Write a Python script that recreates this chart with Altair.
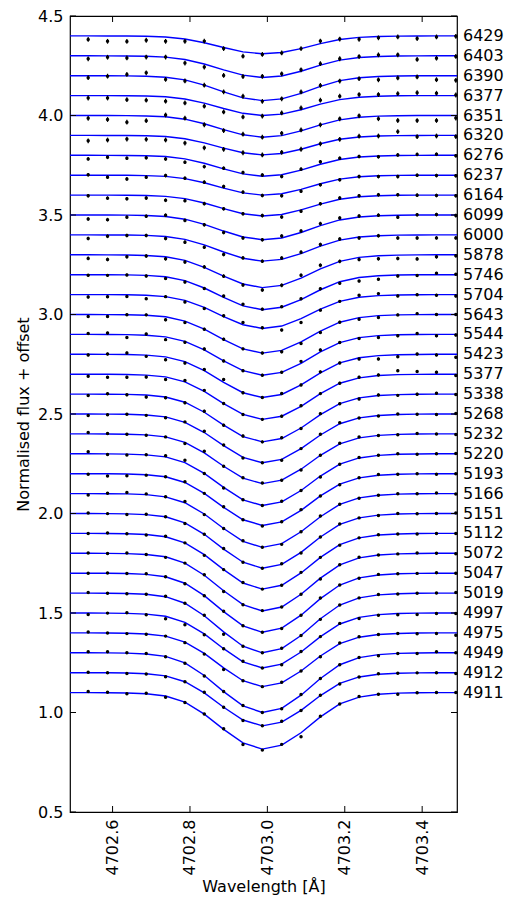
import altair as alt
import pandas as pd

# ---- data ----
epochs = ["6429", "6403", "6390", "6377", "6351", "6320", "6276", "6237", "6164", "6099",
          "6000", "5878", "5746", "5704", "5643", "5544", "5423", "5377", "5338", "5268",
          "5232", "5220", "5193", "5166", "5151", "5112", "5072", "5047", "5019", "4997",
          "4975", "4949", "4912", "4911"]
offsets = [3.4, 3.3, 3.2, 3.1, 3.0, 2.9, 2.8, 2.7, 2.6, 2.5,
           2.4, 2.3, 2.2, 2.1, 2.0, 1.9, 1.8, 1.7, 1.6, 1.5,
           1.4, 1.3, 1.2, 1.1, 1.0, 0.9, 0.8, 0.7, 0.6, 0.5,
           0.4, 0.3, 0.2, 0.1]
# line depth of each model spectrum
depths = [0.090, 0.109, 0.125, 0.100, 0.109, 0.098, 0.105, 0.100, 0.105, 0.124,
          0.132, 0.165, 0.176, 0.170, 0.194, 0.205, 0.217, 0.227, 0.240, 0.245,
          0.250, 0.260, 0.260, 0.270, 0.275, 0.280, 0.290, 0.297, 0.300, 0.276,
          0.270, 0.300, 0.267, 0.284]
# model wavelength grid (Angstrom) and normalised line profile on it
model_wl = [4702.487, 4702.537, 4702.587, 4702.637, 4702.687, 4702.737, 4702.787, 4702.837,
            4702.887, 4702.937, 4702.987, 4703.037, 4703.087, 4703.137, 4703.187, 4703.237,
            4703.287, 4703.337, 4703.387, 4703.437, 4703.487, 4703.537]
profile = [0.0, 0.0, 0.002, 0.006, 0.02, 0.06, 0.17, 0.38, 0.65, 0.89, 1.0,
           0.93, 0.71, 0.43, 0.2, 0.08, 0.03, 0.01, 0.003, 0.0, 0.0, 0.0]
# observed points: departure from the model, in units of 0.01 flux (20 per spectrum)
resid = [
    [-1.8, -2.7, -2.7, -2.0, -2.2, -1.2, 0.8, -0.5, -2.2, -0.3, -0.2, 0, 1.3, 0.2, -1, -0.7, -0.4, -1.3, -0.5, -0.2],
    [-1.5, -0.7, -1, -0.4, 0, -1.8, -1.5, -2.8, -0.7, 0.6, 1.1, 0.7, 0.7, 0.7, 0.5, 0.8, 0.6, -1.8, -1.2, -0.3],
    [-1, -0.2, 0.7, 1.7, -1.1, -0.5, 0, 0, 0.8, -0.4, 0, 0.7, 0.5, -0.2, -0.5, -1.7, -1, -0.6, -2, -2.3],
    [-1.2, -1.2, -2, -2.1, -2.2, -2, -1.5, -1.7, -1.8, -0.3, 0.6, 0.9, 2.0, 1.7, 1.3, 0.8, 1.1, 1.5, 1.2, 0.3],
    [-1.4, -2, -3.3, -2.4, 0.9, 0.5, -0.5, -0.5, 0.3, 0, 1.2, 0.5, 0, 0.5, 0.7, -1.3, -2.4, -2.5, -2.5, -1.3],
    [-2.7, -2.3, -1.8, -1.8, -1.7, -2.2, -2.5, -0.6, 0, 0, 0.6, 0, 0, 0, 0.4, 0, 2, -0.6, -0.3, -0.6],
    [-1.8, -1, -1.4, -1, -1.2, -1.7, -1.7, 0.3, 0.7, 0.6, -0.9, 0.5, 1.3, 0.6, 0.2, -0.4, 0.3, 0.5, 0.5, -0.2],
    [0.2, -1, -1.8, -0.8, 0.4, 0.2, 0.3, 0.8, 0.4, -0.2, -1, -1, -0.5, -0.3, 0.1, -0.4, -0.6, 0, -0.2, -0.3],
    [-0.3, -1.5, -1.8, -1.3, -2, -1, -0.3, 0, 0, 0.2, -1.2, -0.7, 0.2, 0.6, 0.5, 0.5, 0.3, 0, -0.2, -0.3],
    [-2, -2.3, -1, -0.4, 0.6, -0.6, -0.2, -0.7, -0.5, 0, 1, 0.8, 1, 1, 0.5, 0.3, -1, 0.2, 0.2, -0.3],
    [-1.8, -0.7, -0.2, 0, -1, -1.4, -1.2, -1.3, 0.2, 0, 0.7, 0.7, 0.8, 0.6, -0.5, 0, -1.4, -1.5, -1.5, -1.5],
    [-1.8, -2.3, -0.9, -0.3, -1, -0.8, 0.2, 0, -0.5, -1.2, 0, 1.4, 1.8, 0, -1, -1.5, -1.7, -2, -1, -0.5],
    [-0.3, -0.3, 0, -0.3, -0.8, -0.7, -0.3, 0.7, 0.8, 0.3, 0.3, 0.4, 0.5, -0.8, -1.8, -1.8, -0.5, -0.3, 0.7, 0.2],
    [-1.2, -1, -0.9, -1.7, 0, -0.8, -0.5, 0.4, 1.1, 0.3, -2, -2, -0.5, 0, 1, 1, -0.5, 0, -0.3, -0.7],
    [-1, -1, 0, 0.2, -1.5, -0.7, 0, 0.2, 0, 0, -0.7, -0.8, -0.7, 0, -0.8, -0.9, 0, 0.5, 0, 0],
    [0.5, 0.7, -1.4, 0.6, -1.4, -0.5, 0.5, 0, 0, 0, 0, 1, 1, 0, -0.4, -0.9, -0.5, 0.5, -0.7, -0.3],
    [-0.3, 0.2, 0.8, -0.6, -1.4, -0.7, 0.6, 1.4, 0, 0, 0.5, 0, 0.5, 0, -0.6, -1.7, -1, 0.2, -0.3, -1.5],
    [-1, -1.5, -1.4, -1, -1.3, 0.7, 0.5, 0, 0, 0, 0, 0.3, 0, 0, 0.3, 0.3, 2, 1.4, 1, -0.7],
    [-0.7, 0.2, -0.2, -1, -0.4, -0.3, 0.5, 0, 0.3, 0, 0.4, -0.3, 0.5, 0, -0.5, 0.3, -0.4, 0, 0.4, -0.2],
    [-0.7, -0.3, 0, -0.2, -0.4, 0.2, 0.6, 0.3, -0.3, 0, -0.5, 0, 0.4, 0.5, 0, -0.3, 0.2, 0, -0.3, 0.2],
    [0.7, 0.2, 0, -0.2, 0, -0.6, 0.8, 0, 0.2, 0.3, 0, -0.4, 0, 0.3, 0.4, 0, -0.2, 0.3, 0, -0.3],
    [1, -0.3, -0.5, 0, 0.6, 1.2, 0, -0.3, 0, 0, 0.3, 0, -0.5, 0, 0.2, 0, 0.3, -0.2, 0, 0.2],
    [-0.3, -1.1, -0.9, -0.2, 0, 0.4, 0, 0.3, 0, -0.3, 0, 0.4, 0, -0.3, 0, 0.4, 0, 0, -0.3, 0],
    [-0.7, 0.2, 0.7, 0.4, 0, 0.6, -0.3, 0, 0.3, 0, -0.4, 0, 0.3, 0, -0.2, 0, 0.2, 0, 0.3, -0.2],
    [0.3, 0, -0.3, 0.2, 0, -0.4, 0, 0.3, 0, 0, 0.3, -0.3, 0, 0.2, 0, -0.2, 0.3, 0, 0, 0.2],
    [0, 0.3, 0, -0.2, 0.3, 0, -0.4, 0, 0.2, 0, 0, 0.3, 0, -0.3, 0, 0.2, 0, -0.2, 0, 0],
    [0.2, 0, 0.3, 0, -0.3, 0, 0.2, -0.3, 0, 0.2, 0, 0, -0.4, 0, 0.3, 0, 0, 0.2, 0, -0.2],
    [0, 0.2, 0, 0.3, 0, -0.3, 0, 0.2, 0, 0, -0.2, 0, 0.3, 0, -0.2, 0.3, 0, 0, 0.2, 0],
    [0.3, 0, -0.2, 0, 0.2, 0, 0.3, -1.2, 0, 0, 0.2, 0, -0.3, 0, 0, 0.2, -0.2, 0, 0, 0.3],
    [-0.7, 0, 0.3, -0.3, -1.2, -1.2, -0.4, 0, 0.3, 0, -0.3, 0.2, 0, 0.3, -0.6, -0.3, -0.6, -0.7, -0.3, -0.3],
    [0.5, 0, -0.2, -0.1, 0, -0.3, -0.4, -0.8, 0, 0, 0.3, 0, -0.4, 0.3, 0.2, 0, 0, -0.3, -0.3, -1.2],
    [0.5, 0.6, 0.2, 0.3, -0.2, -0.2, -0.3, 0, 0.2, 0, -0.2, 0.3, 0, 0, 0, -0.6, 0, -0.3, 0.5, 0],
    [0.2, 0, -0.2, -0.1, -0.4, 0, 0.3, 0, -0.3, 0, 0.4, 0, 0.2, -0.3, 0, 0.3, 0, 0, 0, -0.4],
    [0.5, 0.2, -0.4, 0.2, -0.6, -0.2, 0, 0.3, -0.8, -0.5, 0.4, -2, 0.3, 0, 0.3, 0, -0.5, 0, 0, 0],
]
# error bar half-length per spectrum
errors = [0.012] * 6 + [0.009] * 6 + [0.007] * 7 + [0.005] * 15

x_ticks = [4702.6, 4702.8, 4703.0, 4703.2, 4703.4]
y_ticks = [0.5, 1.0, 1.5, 2.0, 2.5, 3.0, 3.5, 4.0, 4.5]

# ---- tables ----
model_rows, obs_rows, label_rows = [], [], []
for i, ep in enumerate(epochs):
    for j, wl in enumerate(model_wl):
        model_rows.append({"epoch": ep, "wl": wl,
                           "flux": 1 + offsets[i] - depths[i] * profile[j]})
    for k in range(20):
        m = 1 + offsets[i] - depths[i] * profile[k + 1]
        f = m + resid[i][k] / 100.0
        obs_rows.append({"epoch": ep, "wl": model_wl[k + 1], "flux": f,
                         "lo": f - errors[i], "hi": f + errors[i]})
    label_rows.append({"epoch": ep, "flux": 1 + offsets[i]})

model_df = pd.DataFrame(model_rows)
obs_df = pd.DataFrame(obs_rows)
label_df = pd.DataFrame(label_rows)
xt_df = pd.DataFrame({"wl": x_ticks})
yt_df = pd.DataFrame({"flux": y_ticks})

W, H = 387, 796
FONT = "DejaVu Sans"
FS = 16
xscale = alt.Scale(domain=[4702.49, 4703.49], nice=False, zero=False)
yscale = alt.Scale(domain=[0.5, 4.5], nice=False, zero=False)

xaxis = alt.Axis(values=x_ticks, format=".1f", labelAngle=270, ticks=False, grid=False,
                 domain=False, labelFontSize=FS, titleFontSize=FS, labelFont=FONT,
                 titleFont=FONT, labelColor="black", titleColor="black",
                 titleFontWeight="normal", labelPadding=7, titlePadding=4)
yaxis = alt.Axis(values=y_ticks, format=".1f", ticks=False, grid=False, domain=False,
                 labelFontSize=FS, titleFontSize=FS, labelFont=FONT, titleFont=FONT,
                 labelColor="black", titleColor="black", titleFontWeight="normal",
                 labelPadding=7, titlePadding=6)

X = alt.X("wl:Q", scale=xscale, axis=xaxis, title="Wavelength [Å]")
Y = alt.Y("flux:Q", scale=yscale, axis=yaxis, title="Normalised flux + offset")

lines = alt.Chart(model_df).mark_line(color="#0000ff", strokeWidth=1.4, clip=True).encode(
    x=X, y=Y, detail="epoch:N", order="wl:Q")
bars = alt.Chart(obs_df).mark_rule(color="black", strokeWidth=1.2).encode(
    x=X, y=Y, y2="hi:Q")
bars_lo = alt.Chart(obs_df).mark_rule(color="black", strokeWidth=1.2).encode(
    x=X, y=alt.Y("lo:Q", scale=yscale, axis=yaxis, title="Normalised flux + offset"), y2="flux:Q")
pts = alt.Chart(obs_df).mark_circle(color="black", size=12, opacity=1).encode(x=X, y=Y)
labels = alt.Chart(label_df).mark_text(align="left", baseline="middle", dx=6, fontSize=FS,
                                        font=FONT, color="black").encode(
    x=alt.value(W), y=Y, text="epoch:N")

tick_b = alt.Chart(xt_df).mark_rule(color="black", strokeWidth=1).encode(
    x=X, y=alt.value(H), y2=alt.value(H - 6))
tick_t = alt.Chart(xt_df).mark_rule(color="black", strokeWidth=1).encode(
    x=X, y=alt.value(0), y2=alt.value(6))
tick_l = alt.Chart(yt_df).mark_rule(color="black", strokeWidth=1).encode(
    y=Y, x=alt.value(0), x2=alt.value(6))
tick_r = alt.Chart(yt_df).mark_rule(color="black", strokeWidth=1).encode(
    y=Y, x=alt.value(W - 6), x2=alt.value(W))

chart = alt.layer(lines, bars, bars_lo, pts, labels, tick_b, tick_t, tick_l, tick_r).properties(
    width=W, height=H,
    padding={"left": 62, "top": 8, "right": 50, "bottom": 88},
    autosize=alt.AutoSizeParams(type="none"),
    background="white",
).configure_view(stroke="black", strokeWidth=1.2)

chart.save("out.html", embed_options={"renderer": "svg", "actions": False})
